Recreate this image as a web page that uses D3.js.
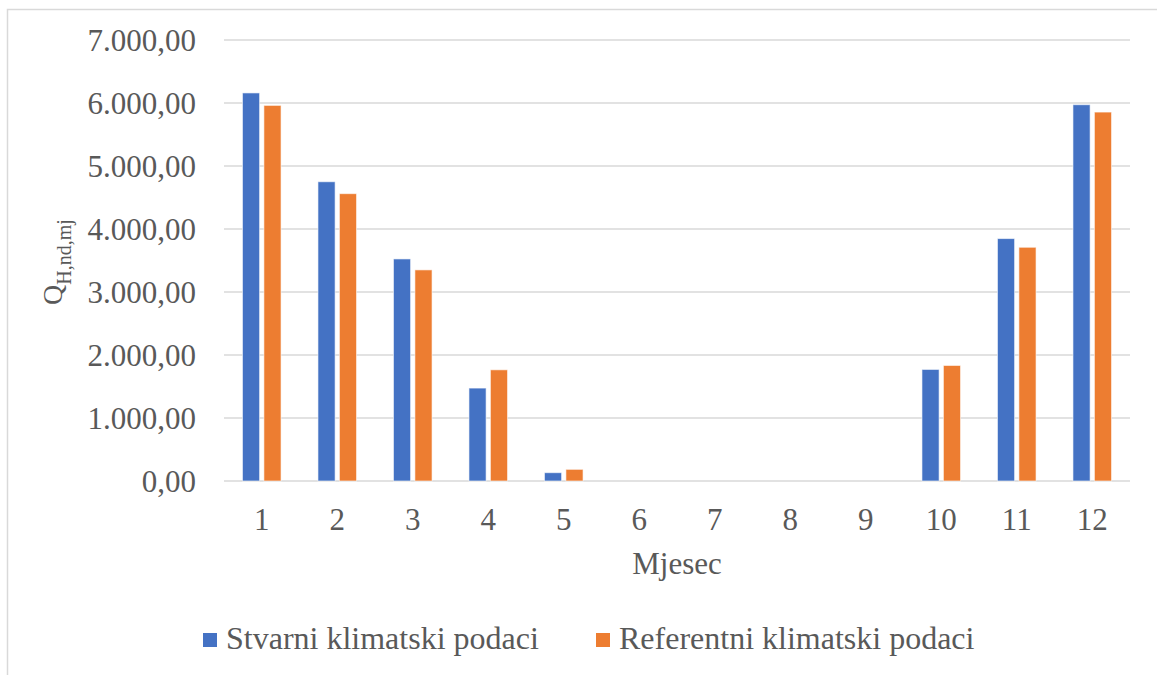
<!DOCTYPE html>
<html>
<head>
<meta charset="utf-8">
<script src="https://cdn.jsdelivr.net/npm/d3@7"></script>
<style>
  body { margin: 0; background: #fff; }
  svg text { font-family: "Liberation Serif", Tinos, "Times New Roman", "DejaVu Serif", serif; fill: #595959; }
</style>
</head>
<body>
<svg width="1157" height="675"></svg>
<script>
const months = ["1", "2", "3", "4", "5", "6", "7", "8", "9", "10", "11", "12"];
const stvarni = [6160, 4750, 3525, 1475, 132, 0, 0, 0, 0, 1771, 3848, 5973];
const referentni = [5962, 4561, 3351, 1765, 185, 0, 0, 0, 0, 1834, 3710, 5856];
const seriesNames = ["Stvarni klimatski podaci", "Referentni klimatski podaci"];
const colors = ["#4472C4", "#ED7D31"];
const yTicks = [0, 1000, 2000, 3000, 4000, 5000, 6000, 7000];

const rows = months.map((m, i) => ({ month: m, values: [stvarni[i], referentni[i]] }));

const serif = '"Liberation Serif", Tinos, "Times New Roman", "DejaVu Serif", serif';

const svg = d3.select("svg").attr("font-family", serif);

// outer chart border (runs off the right and bottom)
svg.append("rect")
  .attr("x", 7.5).attr("y", 9.5)
  .attr("width", 1300).attr("height", 800)
  .attr("fill", "none")
  .attr("stroke", "#d9d9d9")
  .attr("stroke-width", 1.5);

const x = d3.scaleBand().domain(months).range([224, 1130]);
const bw = x.bandwidth();
const x1 = d3.scaleBand().domain([0, 1]).range([bw / 2 - 19.3, bw / 2 + 19.3]).paddingInner(0.2);
const y = d3.scaleLinear().domain([0, 7000]).range([481, 40]);

const fmt = (v) => {
  const s = d3.format(",.2f")(v);
  return s.replace(/,/g, "#").replace(".", ",").replace(/#/g, ".");
};

// gridlines
svg.append("g")
  .selectAll("line")
  .data(yTicks)
  .enter()
  .append("line")
  .attr("x1", 224).attr("x2", 1130)
  .attr("y1", (d) => y(d)).attr("y2", (d) => y(d))
  .attr("stroke", "#d9d9d9")
  .attr("stroke-width", 1.5);

// y tick labels
svg.append("g")
  .selectAll("text")
  .data(yTicks)
  .enter()
  .append("text")
  .attr("x", 196)
  .attr("y", (d) => y(d))
  .attr("dy", "0.35em")
  .attr("text-anchor", "end")
  .attr("font-size", 31)
  .text(fmt);

// bars
const groups = svg.append("g")
  .selectAll(".month")
  .data(rows)
  .enter()
  .append("g")
  .attr("class", "month")
  .attr("transform", (d) => `translate(${x(d.month)},0)`);

groups.selectAll("rect")
  .data((d) => d.values.map((v, i) => ({ v, i })).filter((o) => o.v > 0))
  .enter()
  .append("rect")
  .attr("x", (d) => x1(d.i))
  .attr("width", x1.bandwidth())
  .attr("y", (d) => y(d.v))
  .attr("height", (d) => y(0) - y(d.v))
  .attr("fill", (d) => colors[d.i])
  .attr("stroke", "#fff")
  .attr("stroke-opacity", 0.6)
  .attr("stroke-width", 1);

// x tick labels
svg.append("g")
  .selectAll("text")
  .data(months)
  .enter()
  .append("text")
  .attr("x", (d) => x(d) + bw / 2)
  .attr("y", 530)
  .attr("text-anchor", "middle")
  .attr("font-size", 31)
  .text((d) => d);

// axis titles
svg.append("text")
  .attr("x", 677)
  .attr("y", 574)
  .attr("text-anchor", "middle")
  .attr("font-size", 31)
  .text("Mjesec");

const yTitle = svg.append("text")
  .attr("transform", "translate(62,262) rotate(-90)")
  .attr("text-anchor", "middle");
yTitle.append("tspan").attr("font-size", 28).text("Q");
yTitle.append("tspan").attr("font-size", 20).attr("dy", 9).text("H,nd,mj");

// legend
const legendX = [203, 596];
const legend = svg.append("g")
  .selectAll("g")
  .data(seriesNames)
  .enter()
  .append("g")
  .attr("transform", (d, i) => `translate(${legendX[i]},633)`);

legend.append("rect")
  .attr("width", 14).attr("height", 14)
  .attr("fill", (d, i) => colors[i]);

legend.append("text")
  .attr("x", 23)
  .attr("y", 16)
  .attr("font-size", 32)
  .text((d) => d);
</script>
</body>
</html>
